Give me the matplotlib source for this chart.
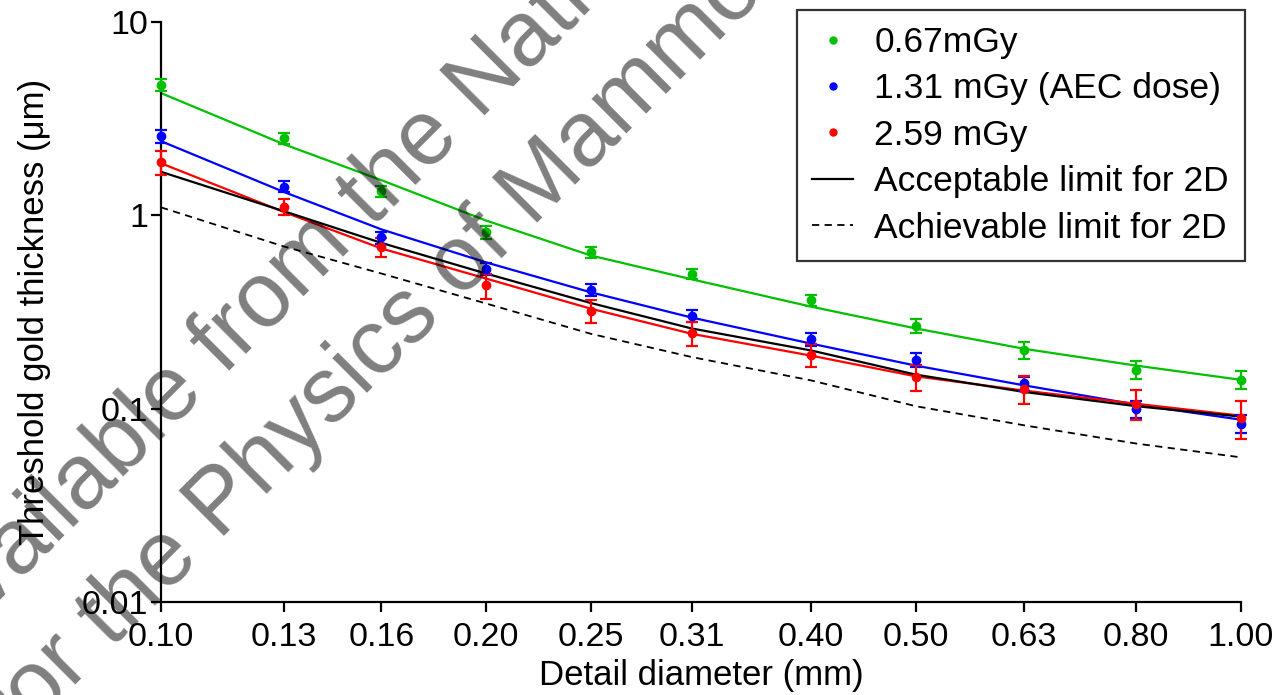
import matplotlib.pyplot as plt
import numpy as np

plt.rcParams['font.family'] = ['Liberation Sans', 'DejaVu Sans']

# Detail diameters (mm)
diameter = [0.10, 0.13, 0.16, 0.20, 0.25, 0.31, 0.40, 0.50, 0.63, 0.80, 1.00]
tick_labels = ['0.10', '0.13', '0.16', '0.20', '0.25', '0.31', '0.40', '0.50', '0.63', '0.80', '1.00']

# Measured threshold gold thickness (um) with error bars
low_pts = [4.72, 2.50, 1.33, 0.817, 0.645, 0.50, 0.363, 0.269, 0.200, 0.159, 0.141]
low_err = [0.33, 0.17, 0.09, 0.06, 0.045, 0.03, 0.025, 0.022, 0.02, 0.017, 0.015]
aec_pts = [2.57, 1.41, 0.77, 0.53, 0.413, 0.303, 0.228, 0.179, 0.135, 0.100, 0.0836]
aec_err = [0.19, 0.095, 0.055, 0.04, 0.03, 0.022, 0.017, 0.014, 0.011, 0.010, 0.009]
high_pts = [1.88, 1.11, 0.685, 0.434, 0.322, 0.245, 0.190, 0.146, 0.127, 0.106, 0.0898]
high_err = [0.26, 0.10, 0.075, 0.065, 0.045, 0.035, 0.026, 0.023, 0.021, 0.019, 0.02]

# Fitted curves evaluated at each diameter
low_fit = [4.29, 2.33, 1.52, 0.94, 0.62, 0.467, 0.337, 0.26, 0.204, 0.167, 0.141]
aec_fit = [2.42, 1.32, 0.846, 0.571, 0.40, 0.296, 0.217, 0.167, 0.132, 0.105, 0.0877]
high_fit = [1.86, 1.04, 0.674, 0.471, 0.329, 0.244, 0.188, 0.147, 0.124, 0.106, 0.092]

# EUREF limits for 2D
acceptable = [1.68, 1.05, 0.72, 0.50, 0.352, 0.26, 0.20, 0.150, 0.122, 0.103, 0.091]
achievable = [1.10, 0.69, 0.50, 0.35, 0.244, 0.185, 0.140, 0.103, 0.082, 0.066, 0.056]

green = '#00c000'
blue = '#0000ff'
red = '#ff0000'

fig = plt.figure(figsize=(12.88, 6.95), dpi=100)
ax = fig.add_axes([0.125, 0.1338, 0.8385, 0.8345])

series = [
    (low_pts, low_err, low_fit, green, '0.67mGy'),
    (aec_pts, aec_err, aec_fit, blue, '1.31 mGy (AEC dose)'),
    (high_pts, high_err, high_fit, red, '2.59 mGy'),
]
handles = []
for pts, err, fit, col, lab in series:
    ax.errorbar(diameter, pts, yerr=err, fmt='o', color=col, ms=6,
                elinewidth=1.6, capsize=4, capthick=1.6, clip_on=False, zorder=3)
    ax.plot(diameter, fit, color=col, lw=1.6, zorder=2)
    h, = ax.plot([], [], 'o', color=col, ms=5, label=lab)
    handles.append(h)

h1, = ax.plot(diameter, acceptable, color='black', lw=1.6, label='Acceptable limit for 2D')
h2, = ax.plot(diameter, achievable, color='black', lw=1.3, ls=(0, (4, 3)),
              label='Achievable limit for 2D')
handles += [h1, h2]

ax.set_xscale('log')
ax.set_yscale('log')
ax.set_xlim(0.10, 1.00)
ax.set_ylim(0.01, 10)
ax.set_xticks(diameter)
ax.set_xticklabels(tick_labels)
ax.xaxis.set_minor_locator(plt.NullLocator())
ax.set_yticks([0.01, 0.1, 1, 10])
ax.set_yticklabels(['0.01', '0.1', '1', '10'])
ax.yaxis.set_minor_locator(plt.NullLocator())

for s in ['top', 'right']:
    ax.spines[s].set_visible(False)
for s in ['left', 'bottom']:
    ax.spines[s].set_linewidth(1.6)
ax.tick_params(direction='out', length=7.5, width=1.6, labelsize=24.5)
ax.tick_params(axis='x', pad=7)
ax.tick_params(axis='y', pad=2)

ax.set_xlabel('Detail diameter (mm)', fontsize=25, labelpad=4)
ax.set_ylabel('Threshold gold thickness (\u03bcm)', fontsize=25, labelpad=22)

leg = ax.legend(handles=handles, loc='upper right',
                bbox_to_anchor=(0.9666, 0.9856), bbox_transform=fig.transFigure,
                borderaxespad=0, fontsize=25.5, frameon=True, fancybox=False,
                borderpad=0.45, labelspacing=0.38, handlelength=1.15,
                handletextpad=0.6)
leg.get_frame().set_edgecolor('black')
leg.get_frame().set_linewidth(1.6)

# Watermark
wm = dict(fontsize=66, color='black', alpha=0.5, rotation=45,
          rotation_mode='anchor', ha='left', va='baseline', zorder=10)
fig.text(-0.038, 0.066, 'available from the National Coordinating Centre', **wm)
fig.text(0.014, -0.068, 'for the Physics of Mammography', **wm)

fig.savefig('out.png', dpi=100)
